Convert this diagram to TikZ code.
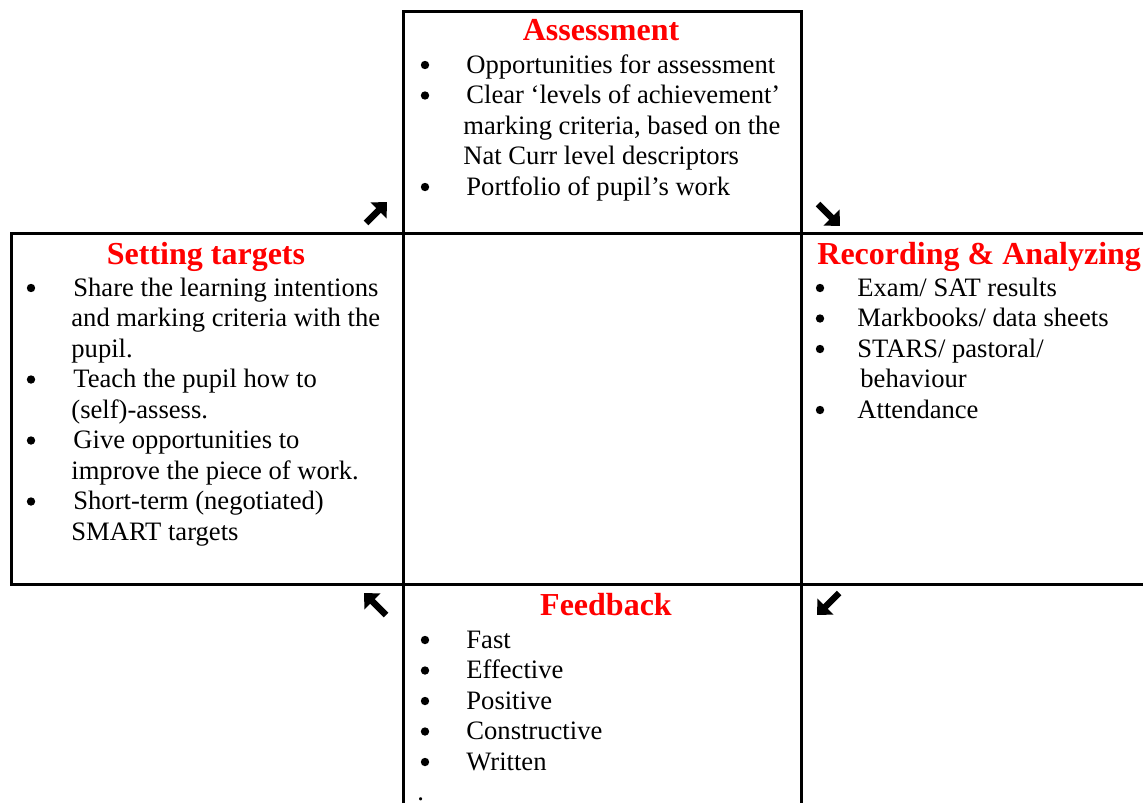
\documentclass[tikz,border=0pt]{standalone}
\usepackage{fontspec}
\setmainfont{Liberation Serif}
\usetikzlibrary{arrows.meta}
\tikzset{
  keret/.style={line width=1.5pt},
  cim/.style={anchor=base,text=red,inner sep=0pt,font=\fontsize{16}{19}\selectfont\bfseries},
  sor/.style={anchor=base west,inner sep=0pt,font=\fontsize{13.3}{15.3}\selectfont},
  golyo/.style={circle,fill,inner sep=0pt,minimum size=4.2pt},
  vnyil/.style={line width=3.2pt,-{Triangle[length=6pt,width=11pt]}},
}

\begin{document}
\begin{tikzpicture}[x=0.5pt,y=-0.5pt]
  \useasboundingbox (0,0) rectangle (1143,803);
  % racs
  \draw[keret] (403,803) -- (403,11) -- (801,11) -- (801,803);
  \draw[keret] (1143,233) -- (11,233) -- (11,584) -- (1143,584);
  % nyilak a sarkokban
  \draw[vnyil] (366,223) -- (387,202);
  \draw[vnyil] (818,204) -- (840,226);
  \draw[vnyil] (386,615) -- (364,593);
  \draw[vnyil] (839,593) -- (817,615);
  % 1. felmeres
  \node[cim] (felmeres) at (601,40) {Assessment};
  \foreach \b/\x/\t [count=\i] in {1/466/Opportunities for assessment,
      1/466/Clear ‘levels of achievement’, {0/463/marking criteria, based on the},
      0/463/Nat Curr level descriptors, 1/466/Portfolio of pupil’s work}
  {
    \node[sor] (fm\i) at (\x,{73+30.5*(\i-1)}) {\t};
    \ifnum\b=1 \node[golyo] (fmp\i) at (425,{65+30.5*(\i-1)}) {}; \fi
  }
  % 2. celok
  \node[cim] (celok) at (206,264) {Setting targets};
  \foreach \b/\x/\t [count=\i] in {1/73/Share the learning intentions,
      0/71/and marking criteria with the, 0/71/pupil., 1/73/Teach the pupil how to,
      0/71/(self)-assess., 1/73/Give opportunities to, 0/71/improve the piece of work.,
      1/73/Short-term (negotiated), 0/71/SMART targets}
  {
    \node[sor] (ce\i) at (\x,{296+30.5*(\i-1)}) {\t};
    \ifnum\b=1 \node[golyo] (cep\i) at (31,{288+30.5*(\i-1)}) {}; \fi
  }
  % 3. rogzites
  \node[cim,anchor=base west] (rogzites) at (817,264) {Recording \& Analyzing};
  \foreach \b/\x/\t [count=\i] in {1/857/{Exam/ SAT results}, 1/857/{Markbooks/ data sheets},
      1/857/{STARS/ pastoral/}, 0/860/behaviour, 1/857/Attendance}
  {
    \node[sor] (ro\i) at (\x,{296+30.5*(\i-1)}) {\t};
    \ifnum\b=1 \node[golyo] (rop\i) at (820,{288+30.5*(\i-1)}) {}; \fi
  }
  % 4. visszajelzes
  \node[cim] (visszajelzes) at (606,615) {Feedback};
  \foreach \t [count=\i] in {Fast, Effective, Positive, Constructive, Written}
  {
    \node[sor] (vj\i) at (466,{648+30.5*(\i-1)}) {\t};
    \node[golyo] (vjp\i) at (425,{640+30.5*(\i-1)}) {};
  }
  \node[sor] (vjpont) at (417,800) {.};
\end{tikzpicture}
\end{document}
